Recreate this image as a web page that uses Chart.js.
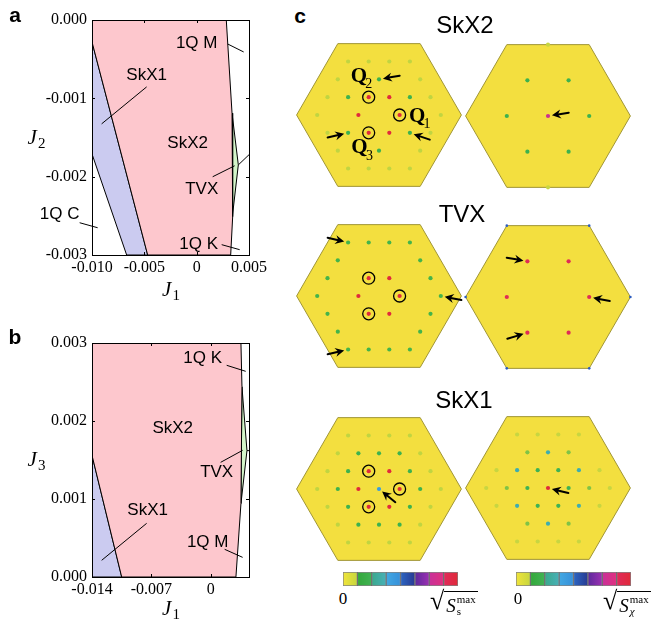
<!DOCTYPE html>
<html>
<head>
<meta charset="utf-8">
<script src="https://cdn.jsdelivr.net/npm/chart.js@4.4.1/dist/chart.umd.min.js"></script>
<style>
    body { margin: 0; width: 665px; height: 625px; position: relative; overflow: hidden; background: #fff; font-family: "Liberation Sans", Arial, sans-serif; }
    canvas { position: absolute; }
    .lbl { position: absolute; transform: translate(-50%, -50%); white-space: nowrap; color: #000; }
    .pl { font-weight: bold; font-size: 21px; }
    .ttl { font-size: 24px; }
    .zero { font-family: "Liberation Serif", serif; font-size: 17px; }
    .sq { position: absolute; display: flex; align-items: flex-start; font-family: "Liberation Serif", serif; font-size: 26px; line-height: 1; white-space: nowrap; }
    .rad { display: inline-flex; align-items: center; border-top: 1px solid #000; font-size: 19px; padding: 2px 2px 0 2px; margin-top: 3px; }
    .rad i { font-style: italic; }
    .ss { display: inline-flex; flex-direction: column; align-items: flex-start; font-size: 11px; line-height: 1.05; margin-left: 1px; }
</style>
</head>
<body>
<canvas id="chartA" width="280" height="300" style="left:0;top:0"></canvas>
<canvas id="chartB" width="280" height="325" style="left:0;top:300px"></canvas>

<canvas id="bzSkx2Ss" width="180" height="160" style="left:289px;top:35px"></canvas>
<canvas id="bzSkx2Sx" width="180" height="160" style="left:458px;top:36px"></canvas>
<canvas id="bzTvxSs" width="180" height="160" style="left:289px;top:216px"></canvas>
<canvas id="bzTvxSx" width="180" height="160" style="left:458px;top:217px"></canvas>
<canvas id="bzSkx1Ss" width="180" height="160" style="left:289px;top:409px"></canvas>
<canvas id="bzSkx1Sx" width="180" height="160" style="left:458px;top:408px"></canvas>

<canvas id="cbSs" width="115" height="14" style="left:343px;top:572px"></canvas>
<canvas id="cbSx" width="115" height="14" style="left:516px;top:572px"></canvas>

<div class="lbl pl" style="left:15px;top:15px">a</div>
<div class="lbl pl" style="left:15px;top:337px">b</div>
<div class="lbl pl" style="left:300px;top:16px">c</div>
<div class="lbl ttl" style="left:465px;top:25px">SkX2</div>
<div class="lbl ttl" style="left:462px;top:214px">TVX</div>
<div class="lbl ttl" style="left:464px;top:400px">SkX1</div>
<div class="lbl zero" style="left:343px;top:599px">0</div>
<div class="lbl zero" style="left:518px;top:599px">0</div>
<div class="sq" style="left:430px;top:588px">√<span class="rad"><i>S</i><span class="ss"><span>max</span><span>s</span></span></span></div>
<div class="sq" style="left:603px;top:588px">√<span class="rad"><i>S</i><span class="ss"><span>max</span><i>χ</i></span></span></div>

<script>
    // ---------- panel a : J1 / J2 phase diagram ----------
    const aXTicks = [-0.010, -0.005, 0, 0.005];
    const aYTicks = [0, -0.001, -0.002, -0.003];
    const aSkX2 = [[-0.010, 0], [0.00283, 0], [0.00338, -0.00119], [0.00347, -0.00187], [0.00341, -0.00251], [0.00325, -0.003], [-0.00468, -0.003], [-0.010, -0.00028]];
    const aSkX1 = [[-0.010, -0.00028], [-0.00468, -0.003], [-0.00669, -0.003], [-0.010, -0.00171]];
    const aTVX = [[0.00338, -0.00119], [0.00398, -0.00185], [0.00341, -0.00251], [0.00347, -0.00187]];
    const aMK = [[0.00398, -0.00185], [0.005, -0.00172]];
    const aLabels = [['1Q M', 0.0000, -0.000293], ['SkX1', -0.00478, -0.000701], ['SkX2', -0.00086, -0.001568], ['TVX', 0.00048, -0.002167], ['1Q C', -0.01309, -0.002486], ['1Q K', 0.00019, -0.002868]];
    const aLeaders = [[0.00296, -0.000306, 0.00449, -0.000408], [-0.00478, -0.000854, -0.00908, -0.001326], [0.00153, -0.002001, 0.00363, -0.001861], [-0.01118, -0.002588, -0.00946, -0.002652], [0.00239, -0.002868, 0.00411, -0.002932]];

    // ---------- panel b : J1 / J3 phase diagram ----------
    const bXTicks = [-0.014, -0.007, 0];
    const bYTicks = [0, 0.001, 0.002, 0.003];
    const bSkX2 = [[-0.014, 0.003], [0.00355, 0.003], [0.00367, 0.00244], [0.00355, 0.00094], [0.00296, 0], [-0.0105, 0], [-0.014, 0.00156]];
    const bSkX1 = [[-0.014, 0.00156], [-0.0105, 0], [-0.014, 0]];
    const bTVX = [[0.00367, 0.00244], [0.00426, 0.00162], [0.00355, 0.00094]];
    const bMK = [[0.00426, 0.00162], [0.0045, 0.00162]];
    const bLabels = [['1Q K', -0.00096, 0.002803], ['SkX2', -0.00449, 0.001906], ['TVX', 0.00069, 0.001342], ['SkX1', -0.00744, 0.000855], ['1Q M', -0.00037, 0.000444]];
    const bLeaders = [[0.00187, 0.002714, 0.00411, 0.002637], [0.00116, 0.00147, 0.00375, 0.001624], [-0.00756, 0.000688, -0.01286, 0.000214], [0.00163, 0.000355, 0.00375, 0.000252]];

    // ---------- panel c : structure factors, [u, n, value(0..1), radius?] ----------
    // lattice point at x = u, y = n*sqrt(3)/2 (units of reciprocal lattice spacing)
    const bzCorners = [[4, 0], [2, 4], [-2, 4], [-4, 0], [-2, -4], [2, -4]];
    const skx2Ss = [
        [-1.5, 3, 0.035], [-0.5, 3, 0.035], [0.5, 3, 0.035], [1.5, 3, 0.035],
        [-2, 2, 0.035], [0, 2, 0.13], [2, 2, 0.035],
        [-2.5, 1, 0.035], [-1.5, 1, 0.13], [-0.5, 1, 1], [0.5, 1, 1], [1.5, 1, 0.13], [2.5, 1, 0.035],
        [-3, 0, 0.035], [-1, 0, 1], [1, 0, 1], [3, 0, 0.035],
        [-2.5, -1, 0.035], [-1.5, -1, 0.13], [-0.5, -1, 1], [0.5, -1, 1], [1.5, -1, 0.13], [2.5, -1, 0.035],
        [-2, -2, 0.035], [0, -2, 0.13], [2, -2, 0.035],
        [-1.5, -3, 0.035], [-0.5, -3, 0.035], [0.5, -3, 0.035], [1.5, -3, 0.035]
    ];
    const skx2Sx = [
        [0, 4, 0.03], [-1, 2, 0.13], [1, 2, 0.13], [-2, 0, 0.13], [0, 0, 0.82], [2, 0, 0.13], [-1, -2, 0.13], [1, -2, 0.13], [0, -4, 0.03]
    ];
    const tvxSs = [
        [-1.5, 3, 0.12], [-0.5, 3, 0.12], [0.5, 3, 0.12], [1.5, 3, 0.12],
        [-2, 2, 0.12], [2, 2, 0.12],
        [-2.5, 1, 0.12], [-0.5, 1, 1], [0.5, 1, 1], [2.5, 1, 0.12],
        [-3, 0, 0.12], [-1, 0, 1], [1, 0, 1], [3, 0, 0.12],
        [-2.5, -1, 0.12], [-0.5, -1, 1], [0.5, -1, 1], [2.5, -1, 0.12],
        [-2, -2, 0.12], [2, -2, 0.12],
        [-1.5, -3, 0.12], [-0.5, -3, 0.12], [0.5, -3, 0.12], [1.5, -3, 0.12]
    ];
    const tvxSx = [
        [-1, 2, 0.95], [1, 2, 0.95], [-2, 0, 0.95], [2, 0, 0.95], [-1, -2, 0.95], [1, -2, 0.95],
        [4, 0, 0.5, 1.3], [2, 4, 0.5, 1.3], [-2, 4, 0.5, 1.3], [-4, 0, 0.5, 1.3], [-2, -4, 0.5, 1.3], [2, -4, 0.5, 1.3]
    ];
    const skx1Ss = [
        [-1.5, 3, 0.035], [-0.5, 3, 0.035], [0.5, 3, 0.035], [1.5, 3, 0.035],
        [-2, 2, 0.035], [-1, 2, 0.13], [0, 2, 0.13], [1, 2, 0.13], [2, 2, 0.035],
        [-2.5, 1, 0.035], [-1.5, 1, 0.13], [-0.5, 1, 1], [0.5, 1, 1], [1.5, 1, 0.13], [2.5, 1, 0.035],
        [-3, 0, 0.035], [-2, 0, 0.13], [-1, 0, 1], [0, 0, 0.38], [1, 0, 1], [2, 0, 0.13], [3, 0, 0.035],
        [-2.5, -1, 0.035], [-1.5, -1, 0.13], [-0.5, -1, 1], [0.5, -1, 1], [1.5, -1, 0.13], [2.5, -1, 0.035],
        [-2, -2, 0.035], [-1, -2, 0.13], [0, -2, 0.13], [1, -2, 0.13], [2, -2, 0.035],
        [-1.5, -3, 0.035], [-0.5, -3, 0.035], [0.5, -3, 0.035], [1.5, -3, 0.035]
    ];
    const skx1Sx = [
        [-1.5, 3, 0.03], [-0.5, 3, 0.03], [0.5, 3, 0.03], [1.5, 3, 0.03],
        [-1, 2, 0.08], [0, 2, 0.27], [1, 2, 0.08],
        [-2.5, 1, 0.03], [-1.5, 1, 0.27], [-0.5, 1, 0.14], [0.5, 1, 0.14], [1.5, 1, 0.27], [2.5, 1, 0.03],
        [-3, 0, 0.03], [-2, 0, 0.08], [-1, 0, 0.14], [0, 0, 1], [1, 0, 0.14], [2, 0, 0.08], [3, 0, 0.03],
        [-2.5, -1, 0.03], [-1.5, -1, 0.27], [-0.5, -1, 0.14], [0.5, -1, 0.14], [1.5, -1, 0.27], [2.5, -1, 0.03],
        [-1, -2, 0.08], [0, -2, 0.27], [1, -2, 0.08],
        [-1.5, -3, 0.03], [-0.5, -3, 0.03], [0.5, -3, 0.03], [1.5, -3, 0.03]
    ];
    const qRings = [[-0.5, 1], [1, 0], [-0.5, -1]];
    // arrows: [u, n, direction of the tail in degrees]
    const skx2SsArrows = [[0, 2, 10], [-1.5, -1, 193], [1.5, -1, -19]];
    const skx2SxArrows = [[0, 0, 9]];
    const tvxSsArrows = [[-1.5, 3, 167], [3, 0, -11], [-1.5, -3, 193]];
    const tvxSxArrows = [[-1, 2, 170], [2, 0, -11], [-1, -2, 197]];
    const skx1SsArrows = [[0, 0, -39]];
    const skx1SxArrows = [[0, 0, -14]];
    const skx2QLabels = [['2', -0.98, 2.14], ['1', 1.85, -0.07], ['3', -0.95, -1.85]];

    // colour map of the structure factor
    const cmapStops = [0, 0.125, 0.25, 0.375, 0.5, 0.625, 0.75, 0.875, 1];
    const cmapColors = ['#f3e23e', '#3db24a', '#3fb0a6', '#3aa0e2', '#2c5cc0', '#5a2aa0', '#b030a8', '#e0307e', '#e02a3c'];
    const cbStart = ['#f1e43b', '#33a83a', '#3aa98c', '#42a8e2', '#2c66c2', '#5c2a9c', '#c8309a', '#e02a5c'];
    const cbEnd = ['#c6d63e', '#42b254', '#48b0b8', '#3690da', '#283a92', '#9c30b2', '#e0307e', '#e02a38'];

    const SQ = Math.sqrt(3) / 2;
    const A_PX = 20.6;
    const PINK = '#fdc7cd';
    const LAVENDER = '#cbcbf0';
    const MINT = '#d3f5c9';
    const HEX_FILL = '#f3df3f';
    const HEX_EDGE = '#a09534';

    function hexToRgb(h) {
        const n = parseInt(h.slice(1), 16);
        return [(n >> 16) & 255, (n >> 8) & 255, n & 255];
    }

    function cmap(v) {
        for (let i = 1; i < cmapStops.length; i++) {
            if (v <= cmapStops[i]) {
                const t = (v - cmapStops[i - 1]) / (cmapStops[i] - cmapStops[i - 1]);
                const c1 = hexToRgb(cmapColors[i - 1]), c2 = hexToRgb(cmapColors[i]);
                const c = c1.map((a, k) => Math.round(a + (c2[k] - a) * t));
                return `rgb(${c[0]}, ${c[1]}, ${c[2]})`;
            }
        }
        return cmapColors[cmapColors.length - 1];
    }

    function drawSubText(ctx, main, sub, cx, base, size) {
        ctx.font = `italic ${size}px "Liberation Serif", serif`;
        const w1 = ctx.measureText(main).width;
        ctx.font = `${Math.round(size * 0.7)}px "Liberation Serif", serif`;
        const w2 = ctx.measureText(sub).width;
        const x0 = cx - (w1 + w2) / 2;
        ctx.textAlign = 'left';
        ctx.textBaseline = 'alphabetic';
        ctx.font = `italic ${size}px "Liberation Serif", serif`;
        ctx.fillText(main, x0, base);
        ctx.font = `${Math.round(size * 0.7)}px "Liberation Serif", serif`;
        ctx.fillText(sub, x0 + w1 + 1, base + size * 0.2);
    }

    const phaseDecor = {
        id: 'phaseDecor',
        afterDraw(chart, args, o) {
            const { ctx, chartArea: a, scales: { x, y } } = chart;
            const px = v => x.getPixelForValue(v);
            const py = v => y.getPixelForValue(v);
            ctx.save();
            ctx.strokeStyle = '#000';
            ctx.fillStyle = '#000';
            ctx.lineWidth = 1;
            ctx.strokeRect(a.left + 0.5, a.top + 0.5, a.width, a.height);
            ctx.beginPath();
            x.ticks.forEach(t => {
                const p = Math.round(px(t.value)) + 0.5;
                ctx.moveTo(p, a.bottom); ctx.lineTo(p, a.bottom - 3);
                ctx.moveTo(p, a.top); ctx.lineTo(p, a.top + 3);
            });
            y.ticks.forEach(t => {
                const p = Math.round(py(t.value)) + 0.5;
                ctx.moveTo(a.left, p); ctx.lineTo(a.left + 3, p);
                ctx.moveTo(a.right, p); ctx.lineTo(a.right - 3, p);
            });
            ctx.stroke();
            ctx.beginPath();
            o.leaders.forEach(([x1, y1, x2, y2]) => {
                ctx.moveTo(px(x1), py(y1));
                ctx.lineTo(px(x2), py(y2));
            });
            ctx.stroke();
            ctx.font = '17px "Liberation Sans", Arial, sans-serif';
            ctx.textAlign = 'center';
            ctx.textBaseline = 'middle';
            o.labels.forEach(([t, lx, ly]) => ctx.fillText(t, px(lx), py(ly)));
            drawSubText(ctx, 'J', o.xSub, (a.left + a.right) / 2, a.bottom + o.xTitleOff, 21);
            drawSubText(ctx, 'J', o.ySub, a.left - 56, (a.top + a.bottom) / 2 + 6, 21);
            ctx.restore();
        }
    };

    function makePhase(id, cfg) {
        const regions = [
            { pts: cfg.skx2, fill: PINK },
            { pts: cfg.skx1, fill: LAVENDER },
            { pts: cfg.tvx, fill: MINT },
            { pts: cfg.mk, fill: null }
        ];
        const tickFont = { family: '"Liberation Serif", serif', size: 16 };
        return new Chart(document.getElementById(id), {
            type: 'scatter',
            data: {
                datasets: regions.map(r => ({
                    data: (r.fill ? [...r.pts, r.pts[0]] : r.pts).map(([x, y]) => ({ x, y })),
                    showLine: true,
                    fill: r.fill ? 'shape' : false,
                    backgroundColor: r.fill || 'rgba(0,0,0,0)',
                    borderColor: '#000',
                    borderWidth: 1,
                    pointRadius: 0,
                    tension: 0
                }))
            },
            options: {
                responsive: false,
                animation: false,
                events: [],
                layout: { autoPadding: false, padding: { top: cfg.top, right: 31, left: 0, bottom: 0 } },
                scales: {
                    x: {
                        type: 'linear', min: cfg.xMin, max: cfg.xMax,
                        afterBuildTicks: s => { s.ticks = cfg.xTicks.map(value => ({ value })); },
                        afterFit: s => { s.height = cfg.xAxisH; },
                        grid: { display: false, drawTicks: false }, border: { display: false },
                        ticks: { font: tickFont, color: '#000', padding: 3, autoSkip: false, maxRotation: 0,
                                 callback: v => Math.abs(v) < 1e-12 ? '0' : v.toFixed(3) }
                    },
                    y: {
                        type: 'linear', min: cfg.yMin, max: cfg.yMax,
                        afterBuildTicks: s => { s.ticks = cfg.yTicks.map(value => ({ value })); },
                        afterFit: s => { s.width = 92; },
                        grid: { display: false, drawTicks: false }, border: { display: false },
                        ticks: { font: tickFont, color: '#000', padding: 5, autoSkip: false,
                                 callback: v => Math.abs(v) < 1e-12 ? '0.000' : v.toFixed(3) }
                    }
                },
                plugins: {
                    legend: { display: false },
                    tooltip: { enabled: false },
                    phaseDecor: { labels: cfg.labels, leaders: cfg.leaders, xSub: '1', ySub: cfg.ySub, xTitleOff: cfg.xTitleOff }
                }
            },
            plugins: [phaseDecor]
        });
    }

    makePhase('chartA', {
        skx2: aSkX2, skx1: aSkX1, tvx: aTVX, mk: aMK, labels: aLabels, leaders: aLeaders,
        xMin: -0.010, xMax: 0.005, yMin: -0.003, yMax: 0, xTicks: aXTicks, yTicks: aYTicks,
        top: 20, xAxisH: 45, ySub: '2', xTitleOff: 41
    });
    makePhase('chartB', {
        skx2: bSkX2, skx1: bSkX1, tvx: bTVX, mk: bMK, labels: bLabels, leaders: bLeaders,
        xMin: -0.014, xMax: 0.0045, yMin: 0, yMax: 0.003, xTicks: bXTicks, yTicks: bYTicks,
        top: 43, xAxisH: 48, ySub: '3', xTitleOff: 38
    });

    const bzDecor = {
        id: 'bzDecor',
        afterDatasetsDraw(chart, args, o) {
            const { ctx, scales: { x, y } } = chart;
            ctx.save();
            ctx.fillStyle = '#000';
            ctx.strokeStyle = '#000';
            ctx.lineCap = 'round';
            o.arrows.forEach(([u, n, deg]) => {
                const cx = x.getPixelForValue(u), cy = y.getPixelForValue(n * SQ);
                const r = deg * Math.PI / 180, dx = Math.cos(r), dy = -Math.sin(r);
                const nx = -dy, ny = dx;
                const tx = cx + dx * 4, ty = cy + dy * 4;
                ctx.lineWidth = 2;
                ctx.beginPath();
                ctx.moveTo(tx + dx * 6, ty + dy * 6);
                ctx.lineTo(tx + dx * 17, ty + dy * 17);
                ctx.stroke();
                ctx.beginPath();
                ctx.moveTo(tx, ty);
                ctx.lineTo(tx + dx * 9 + nx * 4.5, ty + dy * 9 + ny * 4.5);
                ctx.lineTo(tx + dx * 6, ty + dy * 6);
                ctx.lineTo(tx + dx * 9 - nx * 4.5, ty + dy * 9 - ny * 4.5);
                ctx.closePath();
                ctx.fill();
            });
            (o.q || []).forEach(([sub, u, n]) => {
                const cx = x.getPixelForValue(u), cy = y.getPixelForValue(n * SQ);
                ctx.font = 'bold 21px "Liberation Serif", serif';
                ctx.textAlign = 'center';
                ctx.textBaseline = 'middle';
                ctx.fillText('Q', cx, cy);
                ctx.font = '14px "Liberation Serif", serif';
                ctx.fillText(sub, cx + 10, cy + 8);
            });
            ctx.restore();
        }
    };

    function makeBz(id, dots, rings, arrows, q) {
        const cv = document.getElementById(id);
        const hw = cv.width / 2 / A_PX, hh = cv.height / 2 / A_PX;
        const toXY = ([u, n]) => ({ x: u, y: n * SQ });
        return new Chart(cv, {
            type: 'scatter',
            data: {
                datasets: [
                    { data: rings.map(toXY), pointRadius: 6, pointStyle: 'circle', backgroundColor: 'rgba(0,0,0,0)',
                      borderColor: '#000', borderWidth: 1.3, order: 1, clip: false },
                    { data: dots.map(toXY), pointRadius: dots.map(d => d[3] || 2.1), pointStyle: 'circle',
                      backgroundColor: dots.map(d => cmap(d[2])), borderWidth: 0, order: 2, clip: false },
                    { data: [...bzCorners, bzCorners[0]].map(toXY), showLine: true, fill: 'shape', backgroundColor: HEX_FILL,
                      borderColor: HEX_EDGE, borderWidth: 1, pointRadius: 0, tension: 0, order: 3, clip: false }
                ]
            },
            options: {
                responsive: false,
                animation: false,
                events: [],
                layout: { autoPadding: false, padding: 0 },
                scales: {
                    x: { type: 'linear', min: -hw, max: hw, display: false },
                    y: { type: 'linear', min: -hh, max: hh, display: false }
                },
                plugins: { legend: { display: false }, tooltip: { enabled: false }, bzDecor: { arrows, q } }
            },
            plugins: [bzDecor]
        });
    }

    makeBz('bzSkx2Ss', skx2Ss, qRings, skx2SsArrows, skx2QLabels);
    makeBz('bzSkx2Sx', skx2Sx, [], skx2SxArrows);
    makeBz('bzTvxSs', tvxSs, qRings, tvxSsArrows);
    makeBz('bzTvxSx', tvxSx, [], tvxSxArrows);
    makeBz('bzSkx1Ss', skx1Ss, qRings, skx1SsArrows);
    makeBz('bzSkx1Sx', skx1Sx, [], skx1SxArrows);

    function segGradient(context, i) {
        const chart = context.chart;
        if (!chart.chartArea) return cbStart[i];
        const xs = chart.scales.x;
        const g = chart.ctx.createLinearGradient(xs.getPixelForValue(i), 0, xs.getPixelForValue(i + 1), 0);
        g.addColorStop(0, cbStart[i]);
        g.addColorStop(1, cbEnd[i]);
        return g;
    }

    function makeColorbar(id) {
        return new Chart(document.getElementById(id), {
            type: 'bar',
            data: {
                labels: [''],
                datasets: cbStart.map((c, i) => ({
                    data: [1],
                    backgroundColor: ctx => segGradient(ctx, i),
                    borderColor: 'rgba(30,30,30,0.55)',
                    borderWidth: 1,
                    borderSkipped: false,
                    barPercentage: 1,
                    categoryPercentage: 1
                }))
            },
            options: {
                indexAxis: 'y',
                responsive: false,
                animation: false,
                events: [],
                layout: { autoPadding: false, padding: 0 },
                scales: {
                    x: { stacked: true, display: false, min: 0, max: cbStart.length },
                    y: { stacked: true, display: false }
                },
                plugins: { legend: { display: false }, tooltip: { enabled: false } }
            }
        });
    }

    makeColorbar('cbSs');
    makeColorbar('cbSx');
</script>
</body>
</html>
